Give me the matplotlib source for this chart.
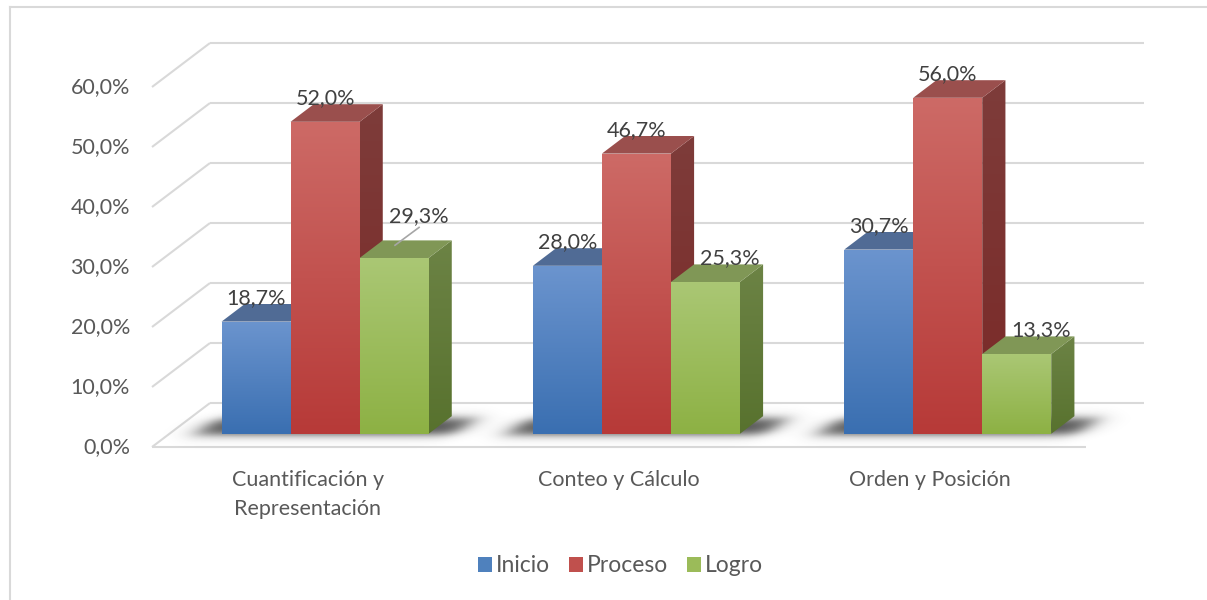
import numpy as np
import matplotlib
matplotlib.use("Agg")
import matplotlib.pyplot as plt
from matplotlib.patches import Polygon, Patch
from matplotlib.lines import Line2D

# ---------------- data ----------------
categories = ["Cuantificación y\nRepresentación", "Conteo y Cálculo", "Orden y Posición"]
series_names = ["Inicio", "Proceso", "Logro"]
inicio = [18.7, 28.0, 30.7]
proceso = [52.0, 46.7, 56.0]
logro = [29.3, 25.3, 13.3]
yticks = [0, 10, 20, 30, 40, 50, 60]
ytick_labels = ["0,0%", "10,0%", "20,0%", "30,0%", "40,0%", "50,0%", "60,0%"]

values = [inicio, proceso, logro]

# ---------------- style ----------------
plt.rcParams["font.family"] = ["Lato", "DejaVu Sans"]
AXIS_TXT = "#595959"
LABEL_TXT = "#404040"
GRID = "#d9d9d9"
FRONT_TOP = ["#6b94ce", "#cd6a66", "#aac774"]
FRONT_BOT = ["#3a6fb1", "#b73a38", "#8db144"]
TOP_FACE = ["#506b95", "#9a4f4d", "#809756"]
SIDE_TOP = ["#41608f", "#7e3c3a", "#6c8345"]
SIDE_BOT = ["#2f5287", "#7a2927", "#58722e"]
LEGEND_COL = ["#4f81bd", "#c0504d", "#9bbb59"]
FS = 15.5

W, H, DPI = 1207, 600, 100
fig = plt.figure(figsize=(W / DPI, H / DPI), dpi=DPI)
ax = fig.add_axes([0, 0, 1, 1])

SX, SY = 311.33, 6.0        # px per category, px per percent
X0PX, Y0PX = 152, 447       # origin of front plane in px (from left / top)
ax.set_xlim(-X0PX / SX, (W - X0PX) / SX)
ax.set_ylim(-(H - Y0PX) / SY, Y0PX / SY)
ax.set_autoscale_on(False)
ax.axis("off")

DX, DY = 58 / SX, 44 / SY   # full depth offset in data units
D0, D1 = 0.3, 0.7           # bar depth range
BW = 69 / SX                # bar width
PT = 72 / DPI               # points per pixel


def P(x, v, d):
    return (x + d * DX, v + d * DY)


ncat = len(categories)

# ---------------- grid / walls ----------------
for v in yticks:
    a, b = P(0, v, 0), P(0, v, 1)
    ax.plot([a[0], b[0]], [a[1], b[1]], color=GRID, lw=1.5, zorder=1, solid_capstyle="butt")
    c = P(ncat, v, 1)
    ax.plot([b[0], c[0]], [b[1], c[1]], color=GRID, lw=1.5, zorder=1, solid_capstyle="butt")
a, b = P(0, 0, 0), P(ncat, 0, 0)
ax.plot([a[0], b[0]], [a[1], b[1]], color=GRID, lw=1.5, zorder=1, solid_capstyle="butt")

for v, lab in zip(yticks, ytick_labels):
    ax.annotate(lab, xy=(0, v), xytext=(-22 * PT, 0), textcoords="offset points",
                ha="right", va="center", fontsize=FS, color=AXIS_TXT)

for i, cat in enumerate(categories):
    ax.annotate(cat, xy=(i + 0.5, 0), xytext=(0, -23 * PT), textcoords="offset points",
                ha="center", va="top", fontsize=FS, color=AXIS_TXT, linespacing=1.55)

# ---------------- shadows on the floor ----------------
def sig(t):
    return 1.0 / (1.0 + np.exp(-t))

xs_img = np.linspace(-0.3, ncat + 0.5, 1300)
ys_img = np.linspace(-1.0, DY + 1.0, 90)
XX, YY = np.meshgrid(xs_img, ys_img)
DD = YY / DY
UU = XX - DD * DX
alpha = np.zeros_like(XX)
ext = 26 / SX
s_u = 7 / SX
s_d = 0.06
for i in range(ncat):
    u0 = i + 0.5 - 1.5 * BW
    u1 = i + 0.5 + 1.5 * BW
    box_u = sig((UU - (u0 - ext)) / s_u) * sig(((u1 + ext) - UU) / s_u)
    box_d = sig((DD - (D0 - 0.02)) / s_d) * sig(((D1 - 0.05) - DD) / s_d)
    alpha += box_u * box_d
alpha = np.clip(alpha, 0, 1) * 0.85
rgba = np.zeros(XX.shape + (4,))
rgba[..., :3] = 0.18
rgba[..., 3] = alpha
ax.imshow(rgba, extent=(xs_img[0], xs_img[-1], ys_img[0], ys_img[-1]), origin="lower",
          aspect="auto", interpolation="bilinear", zorder=2)


# ---------------- bars ----------------
def grad_fill(pts, c_top, c_bot, z):
    poly = Polygon(pts, closed=True, facecolor="none", edgecolor="none", zorder=z)
    ax.add_patch(poly)
    xs = [p[0] for p in pts]
    ys = [p[1] for p in pts]
    ct = np.array(matplotlib.colors.to_rgb(c_top))
    cb = np.array(matplotlib.colors.to_rgb(c_bot))
    img = np.linspace(cb, ct, 64)[:, None, :]
    im = ax.imshow(img, extent=(min(xs), max(xs), min(ys), max(ys)), origin="lower",
                   aspect="auto", interpolation="bilinear", zorder=z)
    im.set_clip_path(poly)


z = 3
for i in range(ncat):
    for j in range(len(values)):
        v = values[j][i]
        x0 = i + 0.5 - 1.5 * BW + j * BW
        x1 = x0 + BW
        front = [P(x0, 0, D0), P(x1, 0, D0), P(x1, v, D0), P(x0, v, D0)]
        top = [P(x0, v, D0), P(x1, v, D0), P(x1, v, D1), P(x0, v, D1)]
        side = [P(x1, 0, D0), P(x1, 0, D1), P(x1, v, D1), P(x1, v, D0)]
        grad_fill(side, SIDE_TOP[j], SIDE_BOT[j], z)
        ax.add_patch(Polygon(top, closed=True, facecolor=TOP_FACE[j], edgecolor="none", zorder=z + 0.1))
        grad_fill(front, FRONT_TOP[j], FRONT_BOT[j], z + 0.2)
        z += 1

# ---------------- data labels ----------------
label_dx = [0, 0, 24]            # px shift per series
special = {(0, 2): (1, 18)}       # extra px shift for crowded label (with leader line)
for i in range(ncat):
    for j in range(len(values)):
        v = values[j][i]
        x0 = i + 0.5 - 1.5 * BW + j * BW
        xc, yb = P(x0 + BW / 2, v, D1)
        xc -= (D1 - D0) * DX
        txt = f"{v:.1f}%".replace(".", ",")
        dx = label_dx[j]
        dy = 6
        if (i, j) in special:
            ex, ey = special[(i, j)]
            ax.annotate(txt, xy=(xc + dx / SX + ex / SX, yb + (dy + ey) / SY), xytext=(0, 0),
                        textcoords="offset points", ha="center", va="center", fontsize=FS,
                        color=LABEL_TXT, zorder=100)
            anchor = P(x0 + 0.27 * BW, v, 0.59)
            ax.plot([anchor[0], xc + dx / SX + ex / SX], [anchor[1], yb + (dy + ey - 11) / SY],
                    color="#a6a6a6", lw=1.2, zorder=99)
        else:
            ax.annotate(txt, xy=(xc, yb), xytext=(dx * PT, dy * PT), textcoords="offset points",
                        ha="center", va="center", fontsize=FS, color=LABEL_TXT, zorder=100)

# ---------------- legend ----------------
handles = [Patch(facecolor=c, edgecolor="none") for c in LEGEND_COL]
fig.legend(handles=handles, labels=series_names, loc="center", bbox_to_anchor=(620.5 / W, 1 - 566 / H),
           ncol=3, frameon=False, fontsize=16.5, handlelength=0.6, handleheight=0.6,
           handletextpad=0.15, columnspacing=0.85, labelcolor=AXIS_TXT)

# ---------------- chart border ----------------
fig.add_artist(Line2D([10 / W, 1], [1 - 7 / H, 1 - 7 / H], transform=fig.transFigure, color=GRID, lw=1.5))
fig.add_artist(Line2D([10 / W, 10 / W], [0, 1 - 7 / H], transform=fig.transFigure, color=GRID, lw=1.5))

fig.savefig("out.png", dpi=DPI, facecolor="white")
